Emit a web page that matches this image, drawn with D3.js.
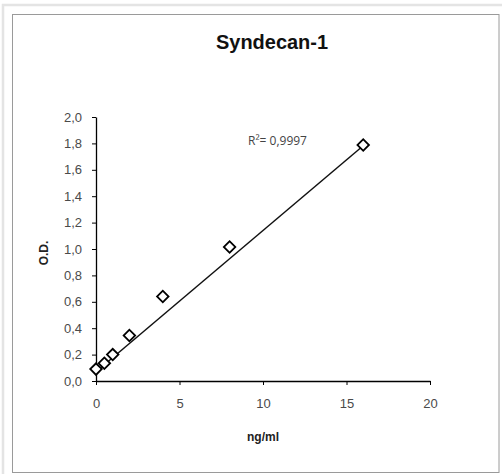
<!DOCTYPE html>
<html>
<head>
<meta charset="utf-8">
<script src="https://cdn.jsdelivr.net/npm/d3@7"></script>
<style>
  body { margin: 0; background: #fff; }
  svg { display: block; }
</style>
</head>
<body>
<svg id="area" width="502" height="474"></svg>
<script>
// standard curve values
const conc = [0, 0.5, 1, 2, 4, 8, 16];
const od = [0.09, 0.134, 0.2, 0.345, 0.64, 1.015, 1.788];
const fitRange = [0, 16];
const fitSlope = 0.107;
const fitIntercept = 0.07;
const xTicks = [0, 5, 10, 15, 20];
const yTicks = [0, 0.2, 0.4, 0.6, 0.8, 1.0, 1.2, 1.4, 1.6, 1.8, 2.0];
const title = "Syndecan-1";
const r2Label = "R\u00b2= 0,9997";

const svg = d3.select("#area");

// frames
svg.append("rect")
  .attr("x", 3).attr("y", 5).attr("width", 520).attr("height", 520)
  .attr("fill", "none").attr("stroke", "#e4e4e4").attr("stroke-width", 2.5);
svg.append("rect")
  .attr("x", 12.5).attr("y", 14.5).attr("width", 486.5).attr("height", 458)
  .attr("fill", "#fff").attr("stroke", "#9a9a9a").attr("stroke-width", 1);

const x = d3.scaleLinear().domain([0, 20]).range([96, 430]);
const y = d3.scaleLinear().domain([0, 2]).range([381, 117]);

const fmt = d => d3.format(".1f")(d).replace(".", ",");

const xAxis = svg.append("g")
  .attr("transform", "translate(0," + 381 + ")")
  .call(d3.axisBottom(x).tickValues(xTicks).tickSize(4).tickSizeOuter(0).tickPadding(14));
const yAxis = svg.append("g")
  .attr("transform", "translate(" + 96 + ",0)")
  .call(d3.axisLeft(y).tickValues(yTicks).tickSize(4).tickSizeOuter(0).tickPadding(10).tickFormat(fmt));

[xAxis, yAxis].forEach(a => {
  a.select(".domain").attr("stroke", "#000").attr("stroke-width", 1.3);
  a.selectAll(".tick line").attr("stroke", "#000");
  a.selectAll("text")
    .attr("fill", "#4a4a4a")
    .style("font-family", "'Liberation Sans', Arial, sans-serif")
    .style("font-size", "13px");
});

// trend line
const line = d3.line()
  .x(d => x(d))
  .y(d => y(fitIntercept + fitSlope * d));
svg.append("path")
  .datum(fitRange)
  .attr("d", line)
  .attr("fill", "none")
  .attr("stroke", "#111")
  .attr("stroke-width", 1.5);

// points
const pts = conc.map((c, i) => ({c: c, v: od[i]}));
svg.selectAll(".pt")
  .data(pts)
  .enter().append("path")
  .attr("class", "pt")
  .attr("d", d3.symbol().type(d3.symbolSquare).size(66))
  .attr("transform", d => "translate(" + x(d.c) + "," + y(d.v) + ") rotate(45)")
  .attr("fill", "#fff")
  .attr("stroke", "#000")
  .attr("stroke-width", 1.8);

// texts
svg.append("text")
  .attr("x", 272).attr("y", 49)
  .attr("text-anchor", "middle")
  .attr("textLength", 112).attr("lengthAdjust", "spacingAndGlyphs")
  .style("font-family", "'Liberation Sans', Arial, sans-serif")
  .style("font-size", "20px").style("font-weight", "bold")
  .attr("fill", "#111")
  .text(title);

svg.append("text")
  .attr("x", 248).attr("y", 145)
  .style("font-family", "'Open Sans', sans-serif")
  .style("font-size", "12px")
  .attr("fill", "#444")
  .text(r2Label);

svg.append("text")
  .attr("x", 263).attr("y", 441)
  .attr("text-anchor", "middle")
  .style("font-family", "'Liberation Sans', Arial, sans-serif")
  .style("font-size", "12px").style("font-weight", "bold")
  .attr("fill", "#222")
  .text("ng/ml");

svg.append("text")
  .attr("transform", "translate(48,253) rotate(-90)")
  .attr("text-anchor", "middle")
  .style("font-family", "'Liberation Sans', Arial, sans-serif")
  .style("font-size", "12px").style("font-weight", "bold")
  .attr("fill", "#222")
  .text("O.D.");
</script>
</body>
</html>
